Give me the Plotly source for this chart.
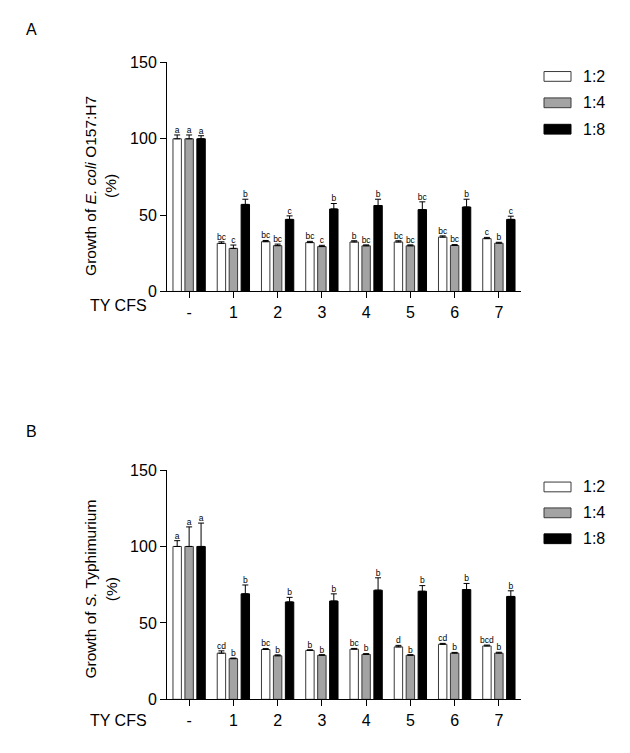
import plotly.graph_objects as go

W, H = 630, 753

categories = ["-", "1", "2", "3", "4", "5", "6", "7"]
series_names = ["1:2", "1:4", "1:8"]

# Panel A: E. coli O157:H7 growth (%)
a_12 = [100, 31.5, 32.6, 32.0, 32.4, 32.4, 35.6, 34.6]
a_14 = [100, 28.2, 30.0, 29.4, 29.9, 29.9, 30.1, 31.6]
a_18 = [100, 57.0, 47.2, 54.0, 56.3, 53.6, 55.3, 47.2]
a_12_err = [2.5, 1.0, 0.8, 0.8, 0.8, 0.8, 0.8, 0.8]
a_14_err = [2.5, 2.2, 1.0, 0.8, 0.6, 0.6, 0.6, 0.6]
a_18_err = [2.0, 3.4, 2.3, 3.6, 4.1, 5.1, 5.1, 2.1]
a_12_let = ["a", "bc", "bc", "bc", "b", "bc", "bc", "c"]
a_14_let = ["a", "c", "bc", "c", "bc", "bc", "bc", "b"]
a_18_let = ["a", "b", "c", "b", "b", "bc", "b", "c"]

# Panel B: S. Typhimurium growth (%)
b_12 = [100, 30.2, 32.6, 32.0, 32.8, 34.3, 36.0, 34.9]
b_14 = [100, 26.6, 28.5, 28.8, 29.4, 28.8, 30.2, 30.2]
b_18 = [100, 69.0, 63.7, 64.3, 71.4, 70.7, 71.8, 67.3]
b_12_err = [3.8, 1.5, 0.6, 0.4, 0.5, 1.0, 0.6, 0.6]
b_14_err = [12.8, 0.4, 0.6, 0.4, 0.5, 0.4, 0.5, 0.6]
b_18_err = [15.3, 5.8, 3.0, 4.7, 8.1, 3.7, 4.0, 3.7]
b_12_let = ["a", "cd", "bc", "b", "bc", "d", "cd", "bcd"]
b_14_let = ["a", "b", "b", "b", "b", "b", "b", "b"]
b_18_let = ["a", "b", "b", "b", "b", "b", "b", "b"]

fills = ["#ffffff", "#a3a3a3", "#000000"]
outlines = ["#3a3a3a", "#3a3a3a", "#000000"]
offsets = [-0.27, 0.0, 0.27]
bar_w = 0.19
FONT = "Arial, Liberation Sans, sans-serif"

fig = go.Figure()

panels = [
    ("x", "y", [a_12, a_14, a_18], [a_12_err, a_14_err, a_18_err], [a_12_let, a_14_let, a_18_let]),
    ("x2", "y2", [b_12, b_14, b_18], [b_12_err, b_14_err, b_18_err], [b_12_let, b_14_let, b_18_let]),
]

xs = list(range(len(categories)))
for xa, ya, vals, errs, lets in panels:
    for k in range(3):
        px = [i + offsets[k] for i in xs]
        fig.add_trace(go.Bar(
            x=px, y=vals[k], width=bar_w, xaxis=xa, yaxis=ya,
            marker=dict(color=fills[k], line=dict(color=outlines[k], width=1)),
            error_y=dict(type="data", symmetric=False, array=errs[k],
                         arrayminus=[0] * len(errs[k]),
                         color="#000000", thickness=1, width=3),
            name=series_names[k], showlegend=False, hoverinfo="skip",
        ))
        fig.add_trace(go.Scatter(
            x=px, y=[v + e for v, e in zip(vals[k], errs[k])],
            xaxis=xa, yaxis=ya, mode="text", text=lets[k],
            textposition="top center",
            textfont=dict(family=FONT, size=8.5, color="#000000"),
            showlegend=False, hoverinfo="skip", cliponaxis=False,
        ))

def py(p):
    return 1 - p / H

xdom = [167 / W, 521 / W]
axis_common = dict(
    showline=True, linecolor="#000000", linewidth=1, ticks="outside",
    ticklen=6, tickcolor="#000000", tickwidth=1, showgrid=False,
    zeroline=False, tickfont=dict(family=FONT, size=16, color="#000000"),
)
fig.update_layout(
    width=W, height=H, margin=dict(l=0, r=0, t=0, b=0),
    plot_bgcolor="#ffffff", paper_bgcolor="#ffffff",
    barmode="overlay", showlegend=False,
    xaxis=dict(domain=xdom, range=[-0.5, 7.5], tickvals=xs, ticktext=categories,
               anchor="y", **axis_common),
    yaxis=dict(domain=[py(290), py(55.7)], range=[0, 150], tickvals=[0, 50, 100, 150],
               anchor="x", **axis_common),
    xaxis2=dict(domain=xdom, range=[-0.5, 7.5], tickvals=xs, ticktext=categories,
                anchor="y2", **axis_common),
    yaxis2=dict(domain=[py(707.3), py(472.7)], range=[0, 150], tickvals=[0, 50, 100, 150],
                anchor="x2", **axis_common),
)

ann = []
shapes = []
ann.append(dict(text="A", x=24 / W, y=py(22), xref="paper", yref="paper",
                showarrow=False, xanchor="left", yanchor="middle",
                font=dict(family=FONT, size=16, color="#000000")))
ann.append(dict(text="B", x=24 / W, y=py(433), xref="paper", yref="paper",
                showarrow=False, xanchor="left", yanchor="middle",
                font=dict(family=FONT, size=16, color="#000000")))
ann.append(dict(text="Growth of <i>E. coli</i> O157:H7<br>(%)", x=101 / W, y=py(182),
                xref="paper", yref="paper", showarrow=False, textangle=-90,
                xanchor="center", yanchor="middle",
                font=dict(family=FONT, size=15.5, color="#000000")))
ann.append(dict(text="Growth of <i>S.</i> Typhimurium<br>(%)", x=101 / W, y=py(595),
                xref="paper", yref="paper", showarrow=False, textangle=-90,
                xanchor="center", yanchor="middle",
                font=dict(family=FONT, size=15.5, color="#000000")))
for yy in (304, 729):
    ann.append(dict(text="TY CFS", x=118 / W, y=py(yy), xref="paper", yref="paper",
                    showarrow=False, xanchor="center", yanchor="middle",
                    font=dict(family=FONT, size=16, color="#000000")))
for ys in ([70, 97, 124], [490, 516.5, 543]):
    for k in range(3):
        shapes.append(dict(type="rect", xref="paper", yref="paper",
                           x0=544 / W, x1=571 / W, y0=py(ys[k] + 5), y1=py(ys[k] - 5),
                           fillcolor=fills[k], line=dict(color=outlines[k], width=1)))
        ann.append(dict(text=series_names[k], x=581 / W, y=py(ys[k]), xref="paper",
                        yref="paper", showarrow=False, xanchor="left", yanchor="middle",
                        font=dict(family=FONT, size=16, color="#000000")))

fig.update_layout(annotations=ann, shapes=shapes)
fig.write_html("out.html", config={"displayModeBar": False},
               post_script="document.body.style.margin='0';document.body.style.overflow='hidden';")
